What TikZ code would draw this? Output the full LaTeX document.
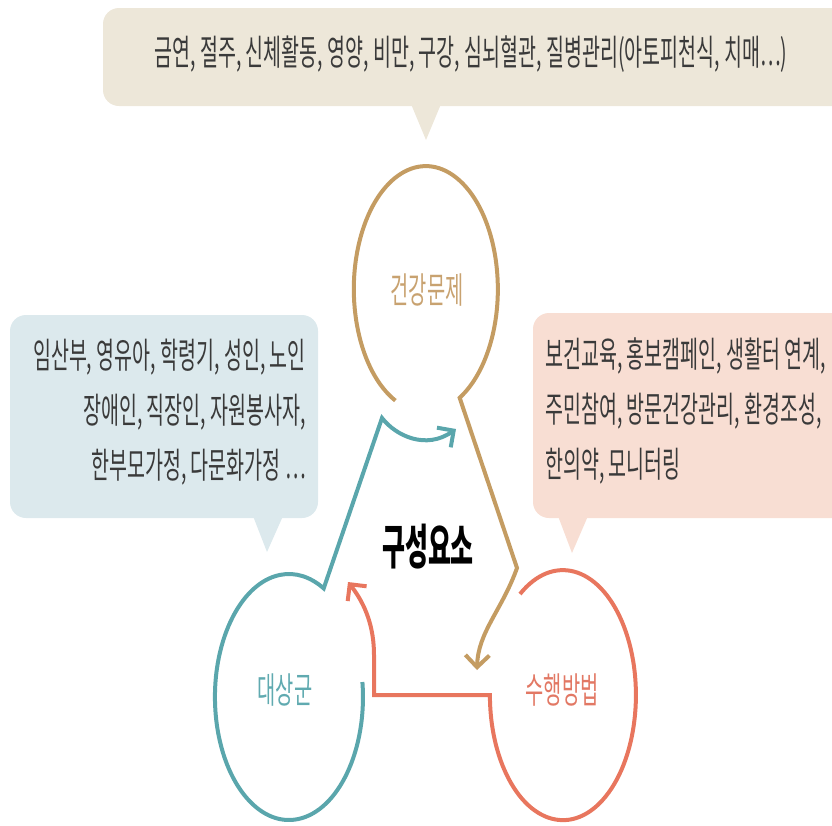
\documentclass[tikz,border=0pt]{standalone}
\usepackage{fontspec}
\newfontfamily\kr[FakeStretch=0.55]{Noto Sans CJK KR}
\newfontfamily\krtitle[FakeStretch=0.52]{Noto Sans CJK KR}
\usetikzlibrary{arrows.meta, calc}
\definecolor{goldline}{RGB}{196,156,98}
\definecolor{goldtext}{RGB}{200,162,112}
\definecolor{tealline}{RGB}{90,166,172}
\definecolor{tealtext}{RGB}{96,170,176}
\definecolor{redline}{RGB}{232,118,94}
\definecolor{redtext}{RGB}{226,120,100}
\definecolor{beigefill}{RGB}{237,231,217}
\definecolor{bluefill}{RGB}{220,233,237}
\definecolor{pinkfill}{RGB}{248,222,211}
\definecolor{notetext}{RGB}{58,58,58}

\begin{document}
\begin{tikzpicture}[x=1pt, y=1pt,
		>={Straight Barb[length=12pt,width=24pt]},
		ring/.style={line width=4pt},
		note/.style={inner sep=0pt, text=notetext, font=\kr\fontsize{35.5}{55}\selectfont},
		lbl/.style={inner sep=0pt, font=\kr\fontsize{36}{40}\selectfont}]
			\useasboundingbox (0,0) rectangle (832,-825);
			\fill[beigefill, rounded corners=16pt] (103,-8) rectangle (880,-106);
			\fill[beigefill] (411,-104) -- (426,-140) -- (441,-104) -- cycle;
			\fill[bluefill, rounded corners=16pt] (10,-315) rectangle (318,-518);
			\fill[bluefill] (253,-516) -- (267,-552) -- (283,-516) -- cycle;
			\fill[pinkfill, rounded corners=16pt] (533,-313) rectangle (880,-518);
			\fill[pinkfill] (558,-516) -- (572,-553) -- (588,-516) -- cycle;
			\node[note] (topnote) at (471,-54) {금연, 절주, 신체활동, 영양, 비만, 구강, 심뇌혈관, 질병관리(아토피천식, 치매…)};
			\node[note, align=right, anchor=east] (leftnote) at (306,-412) {임산부, 영유아, 학령기, 성인, 노인\\장애인, 직장인, 자원봉사자,\\한부모가정, 다문화가정 …};
			\node[note, align=left, anchor=west] (rightnote) at (545,-411) {보건교육, 홍보캠페인, 생활터 연계,\\주민참여, 방문건강관리, 환경조성,\\한의약, 모니터링};
			\node[lbl, text=goldtext] (health) at (427,-290) {건강문제};
			\node[lbl, text=tealtext] (target) at (285,-690) {대상군};
			\node[lbl, text=redtext] (method) at (562,-690) {수행방법};
			\node[inner sep=0pt, font=\krtitle\bfseries\fontsize{48}{50}\selectfont] (parts) at (428,-547) {구성요소};
			\coordinate (hbend) at (517,-568);
			\coordinate (htip) at (477,-670);
			\coordinate (tbend) at (382,-418);
			\coordinate (ttip) at (456,-429);
			\coordinate (mbend) at (374,-695);
			\coordinate (mtip) at (348,-582);
			\draw[ring, goldline, ->] ($(health)+(-31.6,-110.6)$) arc[start angle=245, end angle=-62, x radius=72, y radius=123]
				-- (hbend) .. controls (502,-610) and (478,-632) .. (htip);
			\draw[ring, tealline, ->] (362.4,-682) arc[start angle=7, end angle=-298, x radius=74, y radius=123]
				-- (tbend) .. controls (396,-436) and (426,-450) .. (ttip);
			\draw[ring, redline, ->] (520,-594) arc[start angle=126, end angle=-180, x radius=73, y radius=125]
				-- (mbend) -- ++(0,40) .. controls (374,-628) and (366,-605) .. (mtip);
		\end{tikzpicture}
\end{document}
